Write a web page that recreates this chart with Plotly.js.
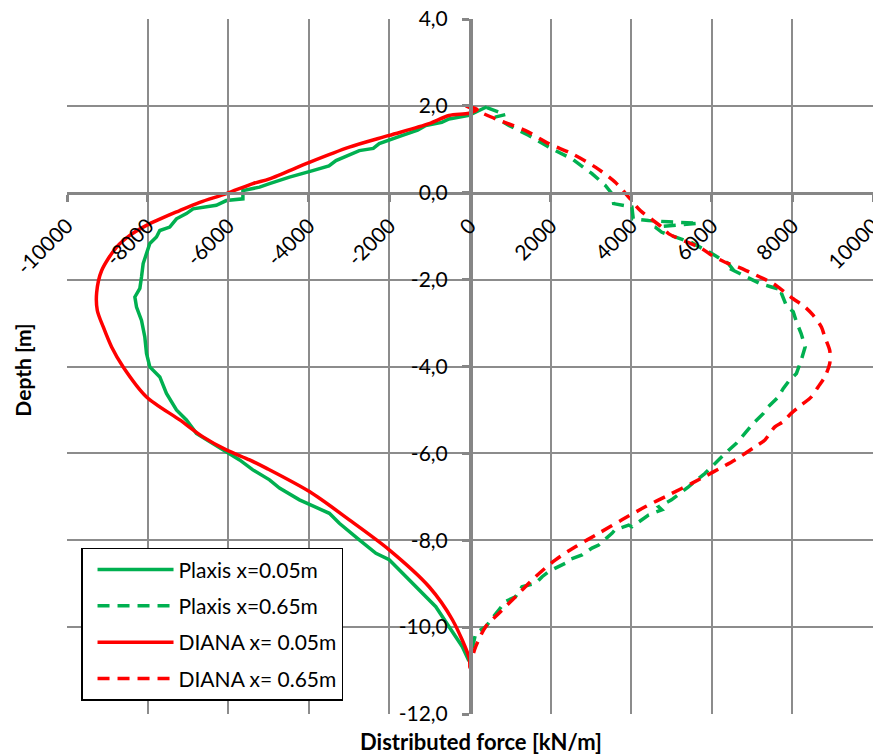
<!DOCTYPE html>
<html>
<head>
<meta charset="utf-8">
<script src="https://cdn.plot.ly/plotly-3.0.1.min.js"></script>
<style>html,body{margin:0;padding:0;background:#fff;}#chart{width:873px;height:754px;}</style>
</head>
<body>
<div id="chart"></div>
<script>
// ---- data (force in kN/m, depth in m) ----
var plaxis005_x = [420, -25, -520, -700, -1097, -1300, -1676, -2252, -2400, -2747, -3325, -3500, -3903, -4480, -4975, -5222, -5635, -5635, -6047, -6295, -6872, -7037, -7284, -7450, -7697, -7780, -7945, -8027, -8110, -8151, -8192, -8316, -8275, -8151, -8069, -8027, -7945, -7697, -7532, -7284, -7037, -6789, -6377, -6047, -5717, -5388, -4975, -4727, -4232, -3490, -3242, -2747, -2334, -2005, -1591, -1180, -849, -520, -190, -25];
var plaxis005_y = [1.98, 1.78, 1.70, 1.62, 1.55, 1.44, 1.32, 1.13, 1.02, 0.97, 0.74, 0.62, 0.51, 0.36, 0.21, 0.13, 0.05, -0.14, -0.18, -0.29, -0.37, -0.48, -0.60, -0.79, -0.87, -1.02, -1.17, -1.40, -1.63, -1.94, -2.20, -2.40, -2.63, -2.94, -3.32, -3.70, -4.01, -4.24, -4.62, -5.00, -5.23, -5.54, -5.77, -5.96, -6.15, -6.38, -6.61, -6.80, -7.07, -7.38, -7.61, -7.99, -8.30, -8.45, -8.84, -9.22, -9.53, -9.99, -10.45, -10.78];

var plaxis065_x = [420, 880, 620, 965, 1460, 2037, 2532, 3027, 3358, 3523, 3564, 4017, 4050, 4430, 4925, 5667, 4596, 4760, 5500, 6000, 6410, 6580, 6452, 7195, 7483, 7770, 7730, 7850, 8020, 8100, 8217, 8316, 8217, 8100, 7900, 7770, 7650, 7400, 7280, 7030, 6820, 6610, 6329, 5833, 5420, 5170, 5000, 4680, 4760, 4430, 4270, 4017, 3935, 3600, 3523, 3193, 3027, 2780, 2450, 2370, 2120, 1955, 1790, 1630, 1290, 1130, 880, 720, 550, 390, 140, 50, 0];
var plaxis065_y = [1.96, 1.80, 1.74, 1.55, 1.32, 1.01, 0.78, 0.44, 0.17, -0.02, -0.25, -0.33, -0.60, -0.64, -0.67, -0.70, -0.79, -0.91, -1.15, -1.40, -1.63, -1.83, -1.75, -2.09, -2.17, -2.25, -2.32, -2.60, -2.74, -2.97, -3.24, -3.55, -3.86, -4.16, -4.35, -4.51, -4.70, -4.93, -5.08, -5.31, -5.54, -5.77, -6.00, -6.46, -6.77, -6.96, -7.07, -7.23, -7.30, -7.42, -7.53, -7.69, -7.65, -7.76, -7.84, -8.11, -8.18, -8.34, -8.45, -8.53, -8.64, -8.72, -8.84, -8.99, -9.07, -9.30, -9.41, -9.60, -9.83, -9.99, -10.14, -10.52, -10.75];

var diana005_x = [-100, 180, -25, -520, -1015, -2005, -2995, -3985, -4975, -5388, -6047, -6707, -7202, -8027, -8440, -8770, -9140, -9264, -9248, -9100, -8893, -8606, -8027, -7202, -6625, -6047, -5470, -5057, -3985, -2995, -2005, -1015, -437, -25, 0];
var diana005_y = [2.00, 1.92, 1.83, 1.78, 1.59, 1.32, 1.05, 0.70, 0.32, 0.21, -0.02, -0.22, -0.41, -0.75, -0.98, -1.25, -1.79, -2.30, -2.71, -3.09, -3.55, -4.01, -4.70, -5.23, -5.62, -5.92, -6.15, -6.34, -6.88, -7.53, -8.22, -9.07, -9.83, -10.70, -10.95];

var diana065_x = [-100, 636, 1379, 1955, 2532, 3110, 3605, 3935, 4225, 4760, 4925, 5740, 6000, 6330, 6660, 6950, 7195, 7524, 7813, 8020, 8310, 8514, 8720, 8803, 8926, 8926, 8803, 8638, 8470, 8217, 7970, 7770, 7565, 7318, 7071, 6576, 5502, 4925, 4348, 3770, 3193, 2616, 2121, 1626, 1131, 718, 388, 141, 17, 0];
var diana065_y = [2.00, 1.70, 1.43, 1.13, 0.90, 0.59, 0.24, -0.10, -0.41, -0.79, -0.94, -1.28, -1.44, -1.60, -1.71, -1.83, -1.94, -2.09, -2.29, -2.44, -2.63, -2.82, -3.09, -3.32, -3.63, -3.93, -4.24, -4.47, -4.70, -4.89, -5.08, -5.27, -5.39, -5.69, -5.85, -6.15, -6.69, -6.96, -7.23, -7.53, -7.84, -8.15, -8.45, -8.84, -9.30, -9.68, -9.99, -10.45, -10.83, -10.92];

var seriesNames = ['Plaxis x=0.05m', 'Plaxis x=0.65m', 'DIANA x= 0.05m', 'DIANA x= 0.65m'];

var xTickVals = [-10000, -8000, -6000, -4000, -2000, 0, 2000, 4000, 6000, 8000, 10000];
var xTickText = ['-10000', '-8000', '-6000', '-4000', '-2000', '0', '2000', '4000', '6000', '8000', '10000'];
var yTickVals = [4, 2, 0, -2, -4, -6, -8, -10, -12];
var yTickText = ['4,0', '2,0', '0,0', '-2,0', '-4,0', '-6,0', '-8,0', '-10,0', '-12,0'];

var GREEN = '#00B050', RED = '#FF0000';
var FONT = 'Lato, "Liberation Sans", Arial, sans-serif';

function tr(x, y, name, color, dash, grp, shape) {
  return {x: x, y: y, name: name, type: 'scatter', mode: 'lines',
          legendgroup: grp,
          line: {color: color, width: 3.5, dash: dash, shape: shape, smoothing: 0.8}};
}

var data = [
  tr(plaxis005_x, plaxis005_y, seriesNames[0], GREEN, 'solid', 'a', 'linear'),
  tr(plaxis065_x, plaxis065_y, seriesNames[1], GREEN, '12px,8px', 'b', 'linear'),
  tr(diana005_x, diana005_y, seriesNames[2], RED, 'solid', 'c', 'spline'),
  tr(diana065_x, diana065_y, seriesNames[3], RED, '12px,8px', 'd', 'spline')
];

var layout = {
  width: 873, height: 754,
  margin: {l: 67, r: 0, t: 19, b: 40, pad: 0},
  paper_bgcolor: '#fff', plot_bgcolor: '#fff',
  font: {family: FONT, size: 21, color: '#000'},
  showlegend: true,
  legend: {
    x: 0.0174, y: 0.239, xanchor: 'left', yanchor: 'top',
    bgcolor: '#fff', bordercolor: '#000', borderwidth: 1.5,
    font: {family: FONT, size: 21, color: '#000'},
    itemwidth: 76, indentation: 10, tracegroupgap: 6, traceorder: 'grouped'
  },
  xaxis: {
    range: [-10000, 10000], anchor: 'free', position: 0.75,
    tickvals: xTickVals, ticktext: xTickText, tickangle: -45,
    showgrid: true, gridcolor: '#8c8c8c', gridwidth: 2,
    zeroline: false, showline: true, linecolor: '#868686', linewidth: 3.5,
    ticks: 'outside', ticklen: 7, tickwidth: 3, tickcolor: '#868686',
    ticklabeloverflow: 'allow', ticklabelstandoff: 3,
    tickfont: {family: FONT, size: 21, color: '#000'},
    automargin: false, fixedrange: true
  },
  yaxis: {
    range: [-12, 4], anchor: 'free', position: 0.5,
    tickvals: yTickVals, ticktext: yTickText,
    showgrid: true, gridcolor: '#8c8c8c', gridwidth: 2,
    zeroline: false, showline: true, linecolor: '#868686', linewidth: 3.5,
    ticks: 'outside', ticklen: 7, tickwidth: 3, tickcolor: '#868686',
    ticklabelstandoff: 10,
    tickfont: {family: FONT, size: 21, color: '#000'},
    automargin: false, fixedrange: true
  },
  annotations: [
    {text: '<b>Depth [m]</b>', xref: 'paper', yref: 'paper', x: -0.055, y: 0.495,
     textangle: -90, showarrow: false, xanchor: 'center', yanchor: 'middle',
     font: {family: FONT, size: 21, color: '#000'}},
    {text: '<b>Distributed force [kN/m]</b>', xref: 'paper', yref: 'paper', x: 0.514, y: -0.040,
     showarrow: false, xanchor: 'center', yanchor: 'middle',
     font: {family: FONT, size: 22, color: '#000'}}
  ]
};

Plotly.newPlot('chart', data, layout, {displayModeBar: false, staticPlot: true});
</script>
</body>
</html>
